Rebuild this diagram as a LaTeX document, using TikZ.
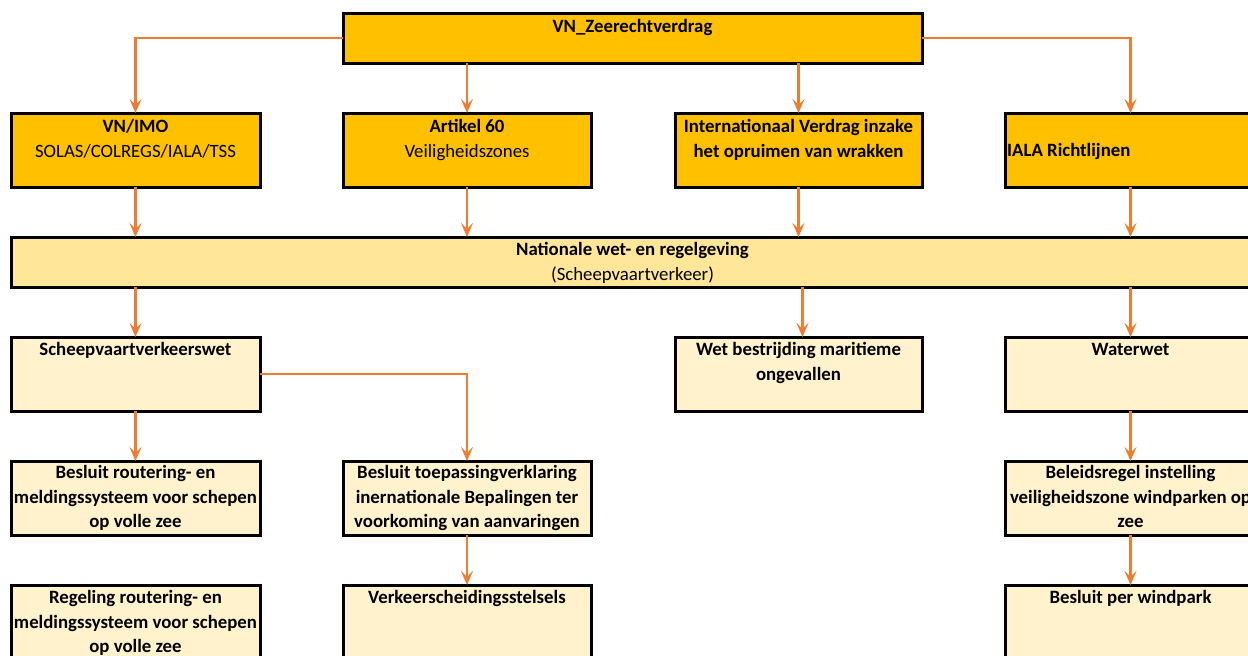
\documentclass[tikz,border=0pt]{standalone}
\usepackage{fontspec}
\setmainfont{Carlito}
\usetikzlibrary{arrows.meta}
\definecolor{darkbox}{HTML}{FFC000}
\definecolor{midbox}{HTML}{FFE699}
\definecolor{lightbox}{HTML}{FFF2CC}
\definecolor{arrowc}{HTML}{ED7D31}
\newcommand{\boxfont}{\fontsize{18.8}{24.5}\selectfont}
\begin{document}
\begin{tikzpicture}[x=1pt,y=-1pt,
  box/.style={draw=black,line width=3pt,rectangle,inner sep=0pt,outer sep=0pt,anchor=north west},
  txt/.style={inner sep=0pt,align=center,font=\boxfont,anchor=north},
  btxt/.style={txt,font=\boxfont\bfseries},
  arr/.style={draw=arrowc,line width=2.6pt,-{Stealth[length=14pt,width=12pt,inset=6pt]}}]
\useasboundingbox (0,0) rectangle (1248,656);
\clip (0,0) rectangle (1248,656);
% boxes
\node[box,fill=darkbox,minimum width=579,minimum height=50] (top) at (343,13) {};
\node[box,fill=darkbox,minimum width=249,minimum height=74] (imo) at (11,113) {};
\node[box,fill=darkbox,minimum width=248,minimum height=74] (art) at (343,113) {};
\node[box,fill=darkbox,minimum width=247,minimum height=74] (int) at (675,113) {};
\node[box,fill=darkbox,minimum width=251,minimum height=74] (iala) at (1005,113) {};
\node[box,fill=midbox,minimum width=1250,minimum height=50] (nat) at (11,237) {};
\node[box,fill=lightbox,minimum width=249,minimum height=74] (sch) at (11,337) {};
\node[box,fill=lightbox,minimum width=247,minimum height=74] (wet) at (675,337) {};
\node[box,fill=lightbox,minimum width=251,minimum height=74] (wat) at (1005,337) {};
\node[box,fill=lightbox,minimum width=249,minimum height=74] (br) at (11,461) {};
\node[box,fill=lightbox,minimum width=248,minimum height=74] (bt) at (343,461) {};
\node[box,fill=lightbox,minimum width=251,minimum height=74] (bel) at (1005,461) {};
\node[box,fill=lightbox,minimum width=249,minimum height=90] (reg) at (11,585) {};
\node[box,fill=lightbox,minimum width=248,minimum height=90] (ver) at (343,585) {};
\node[box,fill=lightbox,minimum width=251,minimum height=90] (bpw) at (1005,585) {};
% texts
\node[btxt] (top-t) at ([yshift=-2.5pt]top.north) {\strut VN\_Zeerechtverdrag};
\node[txt] (imo-t) at ([yshift=-2.5pt]imo.north) {\strut\textbf{VN/IMO}\\SOLAS/COLREGS/IALA/TSS};
\node[txt] (art-t) at ([yshift=-2.5pt]art.north) {\strut\textbf{Artikel 60}\\Veiligheidszones};
\node[btxt] (int-t) at ([yshift=-2.5pt]int.north) {\strut Internationaal Verdrag inzake\\het opruimen van wrakken};
\node[btxt,anchor=north west] (iala-t) at ([xshift=2pt,yshift=-26.5pt]iala.north west) {\strut IALA Richtlijnen};
\node[txt] (nat-t) at ([yshift=-1.5pt]nat.north -| top.north) {\strut\textbf{Nationale wet- en regelgeving}\\(Scheepvaartverkeer)};
\node[btxt] (sch-t) at ([yshift=-1.5pt]sch.north) {\strut Scheepvaartverkeerswet};
\node[btxt] (wet-t) at ([yshift=-1.5pt]wet.north) {\strut Wet bestrijding maritieme\\ongevallen};
\node[btxt] (wat-t) at ([yshift=-1.5pt]wat.north) {\strut Waterwet};
\node[btxt] (br-t) at ([yshift=-0.5pt]br.north) {\strut Besluit routering- en\\meldingssysteem voor schepen\\op volle zee};
\node[btxt] (bt-t) at ([yshift=-0.5pt]bt.north) {\strut Besluit toepassingverklaring\\inernationale Bepalingen ter\\voorkoming van aanvaringen};
\node[btxt] (bel-t) at ([yshift=-0.5pt]bel.north) {\strut Beleidsregel instelling\\veiligheidszone windparken op\\zee};
\node[btxt] (reg-t) at ([yshift=-1.5pt]reg.north) {\strut Regeling routering- en\\meldingssysteem voor schepen\\op volle zee};
\node[btxt] (ver-t) at ([yshift=-1.5pt]ver.north) {\strut Verkeerscheidingsstelsels};
\node[btxt] (bpw-t) at ([yshift=-1.5pt]bpw.north) {\strut Besluit per windpark};
% connectors
\draw[arr] (top.west) -| (imo.north);
\draw[arr] (top.east) -| (iala.north);
\draw[arr] (top.south -| art.north) -- (art.north);
\draw[arr] (top.south -| int.north) -- (int.north);
\draw[arr] (imo.south) -- (imo.south |- nat.north);
\draw[arr] (art.south) -- (art.south |- nat.north);
\draw[arr] (int.south) -- (int.south |- nat.north);
\draw[arr] (iala.south) -- (iala.south |- nat.north);
\draw[arr] (nat.south -| sch.north) -- (sch.north);
\draw[arr] ([xshift=4pt]wet.north |- nat.south) -- ([xshift=4pt]wet.north);
\draw[arr] (nat.south -| wat.north) -- (wat.north);
\draw[arr] (sch.south) -- (br.north);
\draw[arr] (sch.east) -| (bt.north);
\draw[arr] (bt.south) -- (ver.north);
\draw[arr] (wat.south) -- (bel.north);
\draw[arr] (bel.south) -- (bpw.north);
\end{tikzpicture}
\end{document}
